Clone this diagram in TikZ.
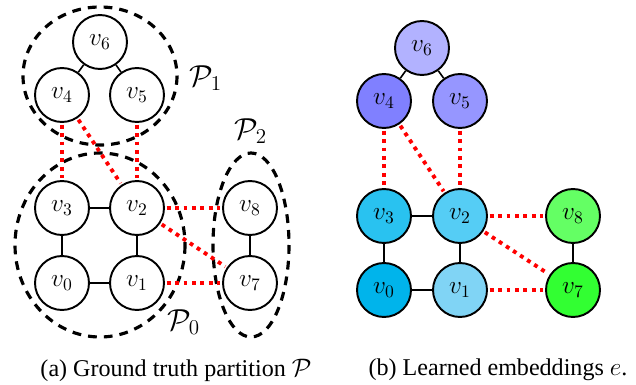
\documentclass[tikz,border=0pt]{standalone}
\usepackage[no-math]{fontspec}
\setmainfont{Liberation Serif}
\definecolor{csix}{RGB}{178,178,255}
\definecolor{cfour}{RGB}{128,128,255}
\definecolor{cfive}{RGB}{150,150,255}
\definecolor{cthree}{RGB}{41,194,240}
\definecolor{ctwo}{RGB}{85,205,245}
\definecolor{czero}{RGB}{0,180,235}
\definecolor{cone}{RGB}{128,212,245}
\definecolor{ceight}{RGB}{100,255,100}
\definecolor{cseven}{RGB}{50,255,50}
\tikzset{
  vert/.style={shape=circle, draw, line width=1.1pt, minimum size=1.08cm, inner sep=0pt, font=\Large},
  inner/.style={line width=0.9pt},
  cross/.style={red, line width=2.2pt, dash pattern=on 2.2pt off 2.6pt, shorten >=1pt, shorten <=1pt},
  part/.style={line width=1.8pt, dash pattern=on 5pt off 4pt},
  partlabel/.style={font=\fontsize{16.5}{19}\selectfont},
  captext/.style={font=\fontsize{13.7}{16}\selectfont}
}
\begin{document}
\begin{tikzpicture}[x=0.02cm, y=-0.02cm]
    \useasboundingbox (0, 0) rectangle (636, 385);

    % (a) ground truth
    \draw [part] (100, 76) ellipse [x radius=77, y radius=69];
    \draw [part] (100, 245) ellipse [x radius=85, y radius=92];
    \draw [part] (251, 245) ellipse [x radius=38, y radius=92];
    \node [partlabel] (p1) at (206, 78) {$\mathcal{P}_1$};
    \node [partlabel] (p2) at (251, 131) {$\mathcal{P}_2$};
    \node [partlabel] (p0) at (184, 322) {$\mathcal{P}_0$};

    \node [vert] (a6) at (100, 42) {$v_6$};
    \node [vert] (a4) at (62, 95) {$v_4$};
    \node [vert] (a5) at (137, 95) {$v_5$};
    \node [vert] (a3) at (62, 208) {$v_3$};
    \node [vert] (a2) at (137, 208) {$v_2$};
    \node [vert] (a0) at (62, 283) {$v_0$};
    \node [vert] (a1) at (137, 283) {$v_1$};
    \node [vert] (a8) at (250, 208) {$v_8$};
    \node [vert] (a7) at (250, 283) {$v_7$};

    \draw [inner] (a6) -- (a4);
    \draw [inner] (a6) -- (a5);
    \draw [inner] (a3) -- (a2);
    \draw [inner] (a3) -- (a0);
    \draw [inner] (a2) -- (a1);
    \draw [inner] (a0) -- (a1);
    \draw [inner] (a8) -- (a7);

    \draw [cross] (a4) -- (a3);
    \draw [cross] (a5) -- (a2);
    \draw [cross] (a4) -- (a2);
    \draw [cross] (a2) -- (a8);
    \draw [cross] (a2) -- (a7);
    \draw [cross] (a1) -- (a7);

    \node [captext] (capa) at (176, 370) {(a) Ground truth partition $\mathcal{P}$};

    % (b) learned embeddings
    \node [vert, fill=csix] (b6) at (422, 48) {$v_6$};
    \node [vert, fill=cfour] (b4) at (384, 101) {$v_4$};
    \node [vert, fill=cfive] (b5) at (460, 101) {$v_5$};
    \node [vert, fill=cthree] (b3) at (384, 216) {$v_3$};
    \node [vert, fill=ctwo] (b2) at (460, 216) {$v_2$};
    \node [vert, fill=czero] (b0) at (384, 290) {$v_0$};
    \node [vert, fill=cone] (b1) at (460, 290) {$v_1$};
    \node [vert, fill=ceight] (b8) at (573, 216) {$v_8$};
    \node [vert, fill=cseven] (b7) at (573, 290) {$v_7$};

    \draw [inner] (b6) -- (b4);
    \draw [inner] (b6) -- (b5);
    \draw [inner] (b3) -- (b2);
    \draw [inner] (b3) -- (b0);
    \draw [inner] (b2) -- (b1);
    \draw [inner] (b0) -- (b1);
    \draw [inner] (b8) -- (b7);

    \draw [cross] (b4) -- (b3);
    \draw [cross] (b5) -- (b2);
    \draw [cross] (b4) -- (b2);
    \draw [cross] (b2) -- (b8);
    \draw [cross] (b2) -- (b7);
    \draw [cross] (b1) -- (b7);

    \node [captext] (capb) at (498, 370) {(b) Learned embeddings $e$.};
  \end{tikzpicture}
\end{document}
